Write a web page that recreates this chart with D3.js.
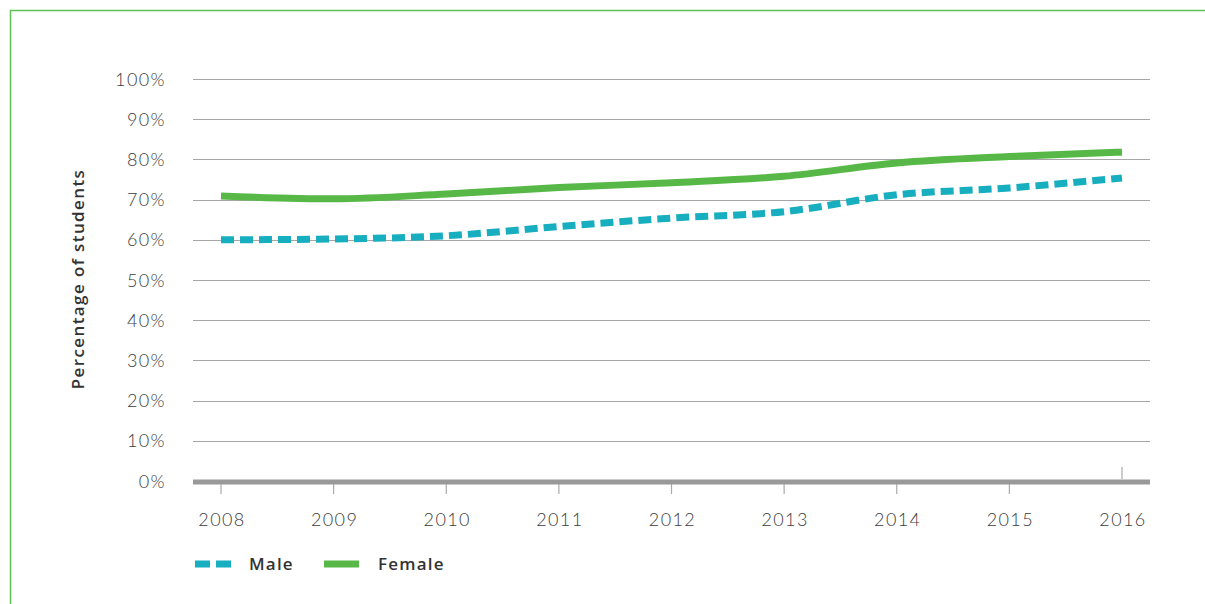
<!DOCTYPE html>
<html>
<head>
<meta charset="utf-8">
<script src="https://d3js.org/d3.v7.min.js"></script>
<style>
  body { margin: 0; background: #fff; }
  .tick-label { font-family: Lato, "Noto Sans", sans-serif; font-size: 18px; font-weight: 300; fill: #3c3c3c; letter-spacing: 1.4px; }
  .axis-title { font-family: "Open Sans", "Noto Sans", sans-serif; font-size: 17px; font-weight: 600; fill: #333; letter-spacing: 1.4px; }
  .legend-label { font-family: "Open Sans", "Noto Sans", sans-serif; font-size: 17px; font-weight: 600; fill: #333; letter-spacing: 1.2px; }
</style>
</head>
<body>
<script>
  // data
  const years = [2008, 2009, 2010, 2011, 2012, 2013, 2014, 2015, 2016];
  const male = [60.0, 60.2, 61.0, 63.3, 65.4, 67.0, 71.2, 72.9, 75.4];
  const female = [70.9, 70.2, 71.4, 73.0, 74.2, 75.8, 79.1, 80.7, 81.8];
  const yTicks = [0, 10, 20, 30, 40, 50, 60, 70, 80, 90, 100];

  const width = 1205, height = 604;
  const svg = d3.select('body').append('svg').attr('width', width).attr('height', height);

  // green frame (open on right and bottom)
  svg.append('path').attr('d', 'M10.5,' + height + ' V10.5 H' + width)
     .attr('fill', 'none').attr('stroke', '#5cc152').attr('stroke-width', 1.5);

  let x = d3.scaleLinear().domain([2008, 2016]).range([221, 1122]);
  let y = d3.scaleLinear().domain([0, 100]).range([481, 79]);
  const gridLeft = 193, gridRight = 1150;

  // gridlines
  svg.append('g').selectAll('line').data(yTicks.filter(d => d > 0)).enter().append('line')
     .attr('x1', gridLeft).attr('x2', gridRight)
     .attr('y1', d => Math.round(y(d)) + 0.5).attr('y2', d => Math.round(y(d)) + 0.5)
     .attr('stroke', '#a6a6a6').attr('stroke-width', 1.2);

  // y labels
  svg.append('g').selectAll('text').data(yTicks).enter().append('text')
     .classed('tick-label', true)
     .attr('x', 166).attr('y', d => y(d) + 6.5)
     .attr('text-anchor', 'end')
     .text(d => d + '%');

  // x ticks: 2016 tick sits above the axis
  svg.append('g').selectAll('line').data(years).enter().append('line')
     .attr('x1', d => x(d)).attr('x2', d => x(d))
     .attr('y1', d => d === 2016 ? 467 : 483)
     .attr('y2', d => d === 2016 ? 479 : 494)
     .attr('stroke', '#aaa').attr('stroke-width', 1.2);

  // baseline
  svg.append('line').attr('x1', gridLeft).attr('x2', gridRight)
     .attr('y1', y(0) + 1).attr('y2', y(0) + 1)
     .attr('stroke', '#999').attr('stroke-width', 5);

  svg.append('g').selectAll('text').data(years).enter().append('text')
     .classed('tick-label', true)
     .attr('x', d => x(d) + 1).attr('y', 526)
     .attr('text-anchor', 'middle')
     .text(d => d);

  // axis title
  svg.append('text').classed('axis-title', true)
     .attr('transform', 'translate(84, 279) rotate(-90)')
     .attr('text-anchor', 'middle')
     .text('Percentage of students');

  const line = d3.line().x((d, i) => x(years[i])).y(d => y(d)).curve(d3.curveMonotoneX);

  svg.append('path').datum(female).attr('d', line)
     .attr('fill', 'none').attr('stroke', '#57b847').attr('stroke-width', 7);
  svg.append('path').datum(male).attr('d', line)
     .attr('fill', 'none').attr('stroke', '#17aebf').attr('stroke-width', 7)
     .attr('stroke-dasharray', '13,6');

  // legend
  let legend = svg.append('g');
  legend.append('line').attr('x1', 195).attr('x2', 231).attr('y1', 564).attr('y2', 564)
        .attr('stroke', '#17aebf').attr('stroke-width', 7).attr('stroke-dasharray', '15,6');
  legend.append('text').classed('legend-label', true).attr('x', 249).attr('y', 570).text('Male');
  legend.append('line').attr('x1', 324).attr('x2', 359).attr('y1', 564).attr('y2', 564)
        .attr('stroke', '#57b847').attr('stroke-width', 7);
  legend.append('text').classed('legend-label', true).attr('x', 378).attr('y', 570).text('Female');
</script>
</body>
</html>
